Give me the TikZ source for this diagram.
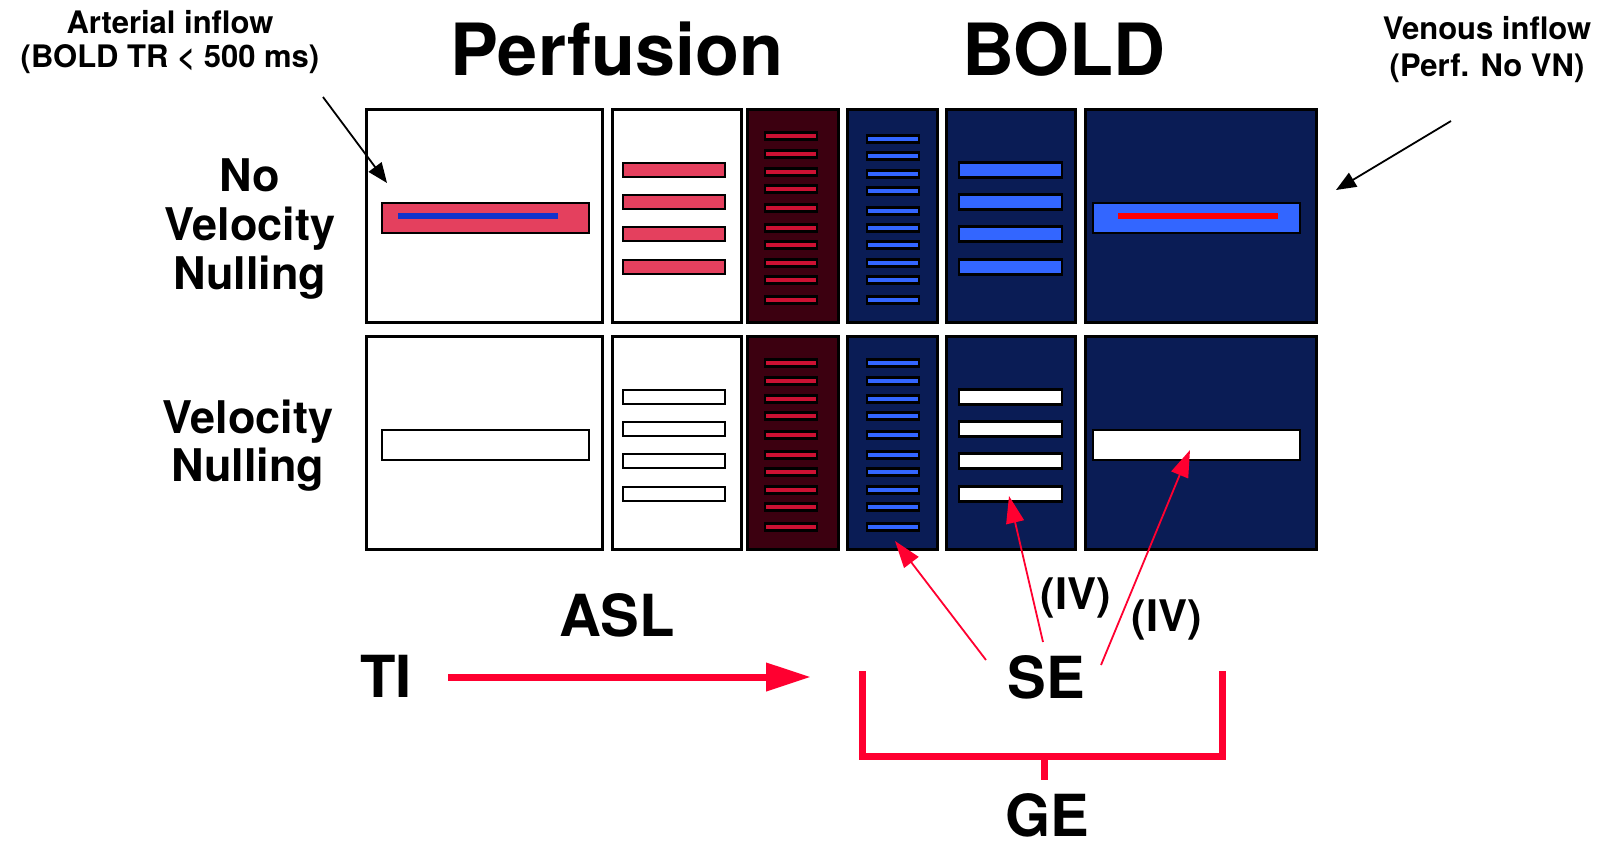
\documentclass[tikz,border=0pt]{standalone}
\usepackage{fontspec}
\setmainfont{TeX Gyre Heros}
\usetikzlibrary{arrows.meta}
\definecolor{rose}{HTML}{E4405E}
\definecolor{wine}{HTML}{3C0010}
\definecolor{crimson}{HTML}{CC1133}
\definecolor{navy}{HTML}{0A1C55}
\definecolor{sky}{HTML}{3366FF}
\definecolor{cobalt}{HTML}{1133CC}
\definecolor{signal}{HTML}{FF0030}
\newcommand{\panel}[5]{\draw[line width=3pt,fill=#1] (#2,#4) rectangle (#3,#5);}
\newcommand{\slab}[5]{\filldraw[fill=#1,draw=black,line width=2.3pt] (#2,#4-#5) rectangle (#3,#4+#5);}
\tikzset{
  title/.style={font=\bfseries\fontsize{72}{72}\selectfont,anchor=base,inner sep=0pt},
  side/.style={font=\bfseries\fontsize{45}{45}\selectfont,anchor=base,inner sep=0pt},
  note/.style={font=\bfseries\fontsize{31}{31}\selectfont,anchor=base,inner sep=0pt},
  tag/.style={font=\bfseries\fontsize{58}{58}\selectfont,anchor=base,inner sep=0pt},
  roman/.style={font=\bfseries\fontsize{43.5}{43.5}\selectfont,anchor=base,inner sep=0pt}
}

\begin{document}
\begin{tikzpicture}[x=1pt,y=-1pt,line join=miter,
    pointer/.style={line width=1.8pt,-{Triangle[length=20pt,width=16pt]}},
    redpointer/.style={signal,line width=1.8pt,-{Triangle[length=27pt,width=18pt]}}]
  \useasboundingbox (0,0) rectangle (1614,849);
  % two rows of panels
  \foreach \dy/\lo/\hi in {0/rose/sky,227/white/white}{
    \panel{white}{366}{602}{109+\dy}{322+\dy}
    \panel{white}{612}{741}{109+\dy}{322+\dy}
    \panel{wine}{747}{838}{109+\dy}{322+\dy}
    \panel{navy}{847}{937}{109+\dy}{322+\dy}
    \panel{navy}{946}{1075}{109+\dy}{322+\dy}
    \panel{navy}{1085}{1316}{109+\dy}{322+\dy}
    \foreach \y in {170,202,234,267}{
      \slab{\lo}{623}{725}{\y+\dy}{7}
      \slab{\hi}{959}{1062}{\y+\dy}{7.5}
    }
    \slab{\lo}{382}{589}{218+\dy}{15}
    \slab{\hi}{1093}{1300}{218+\dy}{15}
  }
  \foreach \y/\z in {136/139,154/156,172/174,189/191,208/211,228/228,245/245,263/263,280/280,300/300}{
    \slab{crimson}{765}{817}{\y}{3.6}
    \slab{sky}{867}{919}{\z}{3.6}
  }
  \foreach \y in {363,381,399,416,435,455,472,490,507,527}{
    \slab{crimson}{765}{817}{\y}{3.6}
    \slab{sky}{867}{919}{\y}{3.6}
  }
  \fill[cobalt] (398,213) rectangle (558,219);
  \fill[red] (1118,213) rectangle (1278,219);
  % headings
  \node[title] (perf) at (617,75) {Perfusion};
  \node[title] (bold) at (1064,75) {BOLD};
  \node[side] (nvn1) at (250,191) {No};
  \node[side] (nvn2) at (250,240) {Velocity};
  \node[side] (nvn3) at (250,289) {Nulling};
  \node[side] (vn1) at (248,433) {Velocity};
  \node[side] (vn2) at (248,481) {Nulling};
  \node[note] (art1) at (170,33) {Arterial inflow};
  \node[note] (art2) at (170,67) {(BOLD TR < 500 ms)};
  \node[note] (ven1) at (1487,39) {Venous inflow};
  \node[note] (ven2) at (1487,76) {(Perf. No VN)};
  % lower labels
  \node[tag] (asl) at (617,636) {ASL};
  \node[tag] (ti) at (386,697) {TI};
  \node[tag] (se) at (1046,698) {SE};
  \node[tag] (ge) at (1047,836) {GE};
  \node[roman] (iv1) at (1076,609) {(IV)};
  \node[roman] (iv2) at (1167,631) {(IV)};
  % arrows
  \coordinate (artfrom) at (323,97);
  \coordinate (artto) at (387,183);
  \coordinate (venfrom) at (1451,121);
  \coordinate (vento) at (1336,190);
  \draw[pointer] (artfrom) -- (artto);
  \draw[pointer] (venfrom) -- (vento);
  \coordinate (tifrom) at (448,677);
  \coordinate (tito) at (811,677);
  \draw[signal,line width=7pt,-{Triangle[length=45pt,width=27pt]}] (tifrom) -- (tito);
  \coordinate (seA) at (986,660);
  \coordinate (seB) at (1043,642);
  \coordinate (seC) at (1101,665);
  \coordinate (hitA) at (895,541);
  \coordinate (hitB) at (1009,496);
  \coordinate (hitC) at (1190,450);
  \draw[redpointer] (seA) -- (hitA);
  \draw[redpointer] (seB) -- (hitB);
  \draw[redpointer] (seC) -- (hitC);
  % GE bracket
  \draw[signal,line width=7pt] (862,671) -- (862,756) -- (1222,756) -- (1222,671);
  \draw[signal,line width=7pt] (1044,756) -- (1044,780);
\end{tikzpicture}
\end{document}
